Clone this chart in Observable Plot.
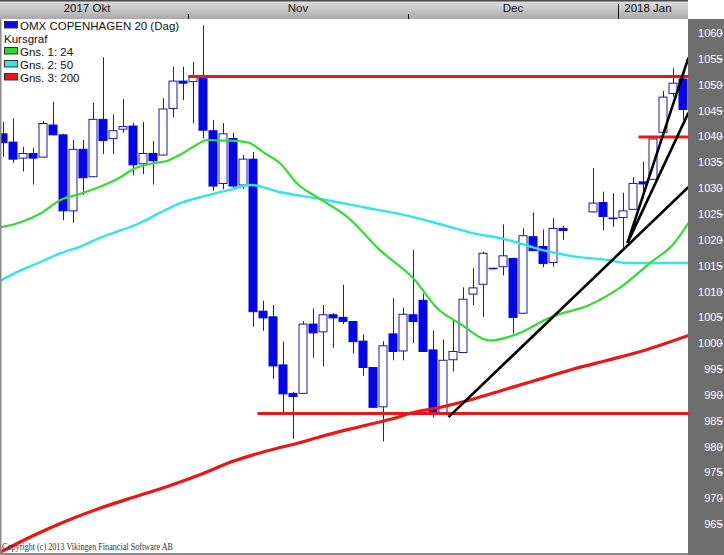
<!DOCTYPE html>
<html><head><meta charset="utf-8">
<script src="https://cdn.jsdelivr.net/npm/d3@7"></script>
<script src="https://cdn.jsdelivr.net/npm/@observablehq/plot@0.6"></script>
<style>body{margin:0;background:#fff;} #chart{width:724px;height:555px;overflow:hidden;position:relative;}</style>
</head><body><div id="chart"></div>
<script>
// ---- candle data (slot index = trading-day column) ----
const slots  = [0,1,2,3,4,5,6,7,8,9,10,11,12,13,14,15,16,17,18,19,20,21,22,23,24,25,26,27,28,29,30,31,32,33,34,35,36,37,38,39,40,41,42,43,44,45,46,47,48,49,50,51,52,53,54,55,56,59,60,61,62,63,64,65,66,67,68];
const opens  = [1040.5,1038.9,1035.8,1036.7,1036.0,1042.2,1040.3,1025.6,1037.5,1032.2,1043.3,1039.6,1041.4,1042.0,1034.7,1036.7,1036.4,1045.4,1050.7,1050.6,1051.5,1041.1,1030.9,1039.6,1030.6,1035.6,1006.2,1005.1,995.8,990.3,990.3,1003.7,1002.2,1005.5,1005.0,1004.2,1000.4,995.3,987.7,1001.8,998.5,1005.5,1008.3,998.7,986.6,996.8,998.2,1009.5,1011.4,1014.5,1014.8,1016.4,1005.8,1020.6,1018.7,1015.6,1022.2,1025.4,1027.2,1024.2,1024.3,1025.9,1031.2,1031.7,1040.8,1048.3,1051.1];
const highs  = [1042.8,1043.5,1038.0,1037.8,1043.0,1046.7,1040.5,1039.3,1039.3,1046.5,1055.3,1044.3,1047.2,1042.6,1042.8,1039.1,1047.4,1053.5,1053.5,1054.4,1061.5,1043.2,1042.6,1040.7,1036.4,1037.0,1008.2,1007.4,1000.3,990.6,1004.3,1006.7,1007.4,1005.8,1011.3,1004.3,1001.7,995.4,1000.4,1008.7,1006.9,1018.0,1009.6,1002.5,1000.7,1004.6,1010.8,1014.5,1017.7,1014.6,1023.0,1016.5,1022.2,1025.3,1022.0,1024.2,1022.7,1033.9,1029.3,1029.0,1029.1,1032.1,1035.1,1039.6,1048.8,1053.2,1051.7];
const lows   = [1036.1,1034.9,1033.2,1030.7,1035.9,1040.2,1023.8,1023.3,1028.7,1032.1,1036.6,1036.6,1040.7,1032.5,1032.7,1030.7,1036.3,1043.7,1047.0,1042.5,1039.6,1029.5,1029.8,1029.8,1029.8,1003.2,1002.4,993.1,986.4,981.5,990.2,997.2,995.5,999.1,1003.7,998.0,993.7,987.5,981.0,996.7,996.7,1000.0,998.3,985.7,986.5,994.5,998.1,1007.4,1005.1,1014.3,1013.1,1001.9,1005.7,1017.8,1014.7,1014.8,1020.0,1025.3,1021.8,1022.5,1018.4,1025.8,1028.0,1031.6,1040.5,1047.7,1043.2];
const closes = [1038.8,1035.6,1036.7,1035.8,1042.5,1040.3,1025.6,1037.5,1032.0,1043.3,1039.2,1041.1,1041.9,1034.5,1036.7,1035.3,1045.3,1050.7,1050.3,1051.7,1041.2,1030.4,1040.5,1030.4,1035.6,1006.1,1004.9,995.6,990.2,989.7,1003.7,1002.0,1005.5,1004.9,1004.2,1000.3,995.3,987.6,999.5,998.4,1005.6,1004.2,998.4,986.4,996.7,998.4,1008.5,1010.7,1017.4,1014.4,1016.9,1005.0,1020.8,1017.9,1015.4,1022.2,1021.8,1027.1,1024.5,1024.1,1025.6,1030.9,1030.8,1039.5,1047.6,1050.3,1045.2];

// ---- moving averages ----
const ma24Slots = [-0.3,1.7,3.7,5.7,7.7,9.7,11.7,13,14.7,16.4,17.7,19,20.4,21.7,22.7,24.5,26,27.7,29.4,31.4,34.4,37.7,41,43.4,45.7,48.7,51.4,54.7,58.7,61.7,64.7,67,68.5];
const ma24Vals  = [1022.5,1023.5,1025.2,1027.8,1029.0,1030.4,1032.2,1033.8,1034.8,1035.4,1036.6,1038.1,1039.4,1039.3,1039.3,1038.9,1037.0,1034.8,1030.9,1028.3,1024.5,1018.0,1012.6,1006.8,1003.8,1000.6,1001.9,1005.1,1007.6,1010.9,1015.7,1019.3,1023.4];
const ma50Slots = [-0.3,1.7,3.7,5.7,7.7,9.7,11.7,13.7,15.7,17.7,20.4,22.7,24.7,27.7,31.7,36,41,43.7,46.7,50.4,53.7,57,60.4,62.4,68.5];
const ma50Vals  = [1012.2,1014.2,1015.8,1017.5,1018.8,1020.5,1021.9,1023.4,1025.4,1027.2,1028.7,1029.8,1030.7,1029.3,1028.0,1026.4,1024.5,1023.1,1021.5,1020.1,1018.2,1016.9,1016.2,1015.6,1015.6];
const ma200Slots = [-0.3,3,6.4,9.7,13,16.4,19.7,23,26.4,29.7,32.2,35.5,38.9,41,43.7,47,50.4,53.7,57,60.4,63.7,68.5];
const ma200Vals  = [959.7,962.9,965.8,968.2,970.3,972.4,974.7,977.3,979.3,980.9,982.3,983.9,985.5,986.7,987.7,989.3,991.3,993.2,995.1,996.8,998.5,1001.6];

// ---- drawn horizontal levels and trend lines ----
const levelStart = [18.5, 25.4, 63.5];
const levelEnd   = [68.5, 68.5, 68.5];
const levelValue = [1051.7, 986.5, 1040.0];
const trendStart = [44.5, 62.4, 62.4];
const trendStartV= [985.8, 1019.5, 1019.5];
const trendEnd   = [68.5, 68.5, 68.5];
const trendEndV  = [1030.3, 1055.4, 1044.7];

// ---- texts ----
const yTicks = [965,970,975,980,985,990,995,1000,1005,1010,1015,1020,1025,1030,1035,1040,1045,1050,1055,1060];
const monthLabels = ["2017 Okt","Nov","Dec","2018 Jan"];
const monthLabelSlot = [8.4, 29.5, 51, 64.5];
const monthTickSlot = [18.5, 40.5, 61.5];
const monthTickMajor = [false, false, true];
const legendNames = ["OMX COPENHAGEN 20 (Dag)","Kursgraf","Gns. 1: 24","Gns. 2: 50","Gns. 3: 200"];
const legendColors = ["#0a0aee", null, "#22dd22", "#2fe6ea", "#ee1515"];
const copyright = "Copyright (c) 2013 Vikingen Financial Software AB";

const candles = slots.map((s,k)=>({i:s,o:opens[k],h:highs[k],l:lows[k],c:closes[k]}));
const series = (xs, vs) => xs.map((s,k)=>({i:s, v:vs[k]}));
const levels = levelValue.map((v,k)=>({i1:levelStart[k], i2:levelEnd[k], v}));
const trends = trendStart.map((s,k)=>({i1:s, v1:trendStartV[k], i2:trendEnd[k], v2:trendEndV[k]}));

const DARK = "#1a1aa0", BLUE = "#0505ea";

const chart = Plot.plot({
  width: 724, height: 555,
  marginTop: 19, marginRight: 36, marginBottom: 2, marginLeft: 0,
  x: {domain: [-0.3, 68.5], range: [0, 688], axis: null},
  y: {domain: [959.42, 1062.71], range: [553, 19], axis: null},
  style: {fontFamily: "'Liberation Sans', Arial, sans-serif", fontSize: "11px", background: "white", overflow: "visible"},
  marks: [
    Plot.ruleX(candles, {x: "i", y1: "l", y2: "h", stroke: DARK, strokeWidth: 1}),
    Plot.rect(candles, {x1: d=>d.i-0.4, x2: d=>d.i+0.4, y1: "o", y2: "c",
      fill: d => d.c < d.o ? BLUE : "white", stroke: d => d.c < d.o ? BLUE : DARK, strokeWidth: 1}),
    Plot.line(series(ma200Slots, ma200Vals), {x: "i", y: "v", stroke: "#ee1515", strokeWidth: 3.2, curve: "monotone-x", clip: true}),
    Plot.line(series(ma50Slots, ma50Vals), {x: "i", y: "v", stroke: "#2fe6ea", strokeWidth: 2.4, curve: "monotone-x", clip: true}),
    Plot.line(series(ma24Slots, ma24Vals), {x: "i", y: "v", stroke: "#33dd33", strokeWidth: 2.2, curve: "monotone-x", clip: true}),
    Plot.link(levels, {x1: "i1", x2: "i2", y1: "v", y2: "v", stroke: "#ee1515", strokeWidth: 3}),
    Plot.link(trends, {x1: "i1", y1: "v1", x2: "i2", y2: "v2", stroke: "black", strokeWidth: 2.6, clip: true}),
    Plot.axisY({anchor: "right", ticks: yTicks, tickSize: 4, tickPadding: 0, textAnchor: "end", dx: 30,
      color: "white", label: null, fontSize: 11, tickFormat: d => String(d)})
  ]
});

const svg = d3.select(chart);
const xs = chart.scale("x");
// background pieces
const defs = svg.insert("defs", ":first-child");
const g = defs.append("linearGradient").attr("id","hdr").attr("x1",0).attr("x2",0).attr("y1",0).attr("y2",1);
g.append("stop").attr("offset","0%").attr("stop-color","#e2e2e2");
g.append("stop").attr("offset","100%").attr("stop-color","#a9a9a9");
const bg = svg.insert("g", "defs + *");
bg.append("rect").attr("x",688).attr("y",19).attr("width",36).attr("height",536).attr("fill","#6e6e6e");
bg.append("rect").attr("x",0).attr("y",0).attr("width",688).attr("height",19).attr("fill","url(#hdr)");
bg.append("rect").attr("x",0).attr("y",0).attr("width",688).attr("height",1.5).attr("fill","#4a4a4a");

const fg = svg.append("g").attr("text-anchor","start");
fg.append("rect").attr("x",0).attr("y",19).attr("width",1.5).attr("height",536).attr("fill","#8a8a8a");
fg.append("rect").attr("x",0).attr("y",553).attr("width",688).attr("height",2).attr("fill","#8a8a8a");
monthLabels.forEach((t,k)=>{
  fg.append("text").attr("x", xs.apply(monthLabelSlot[k])).attr("y", 12).attr("text-anchor","middle")
    .attr("font-size", 11.5).attr("fill","#111").text(t);
});
monthTickSlot.forEach((s,k)=>{
  const x = Math.round(xs.apply(s)) + 0.5;
  fg.append("line").attr("x1",x).attr("x2",x).attr("y1", monthTickMajor[k] ? 4 : 14).attr("y2",19)
    .attr("stroke","#111").attr("stroke-width",1);
});
legendNames.forEach((t,k)=>{
  const base = 29.5 + 13*k;
  if (legendColors[k]) {
    fg.append("rect").attr("x",4.5).attr("y",base-8).attr("width",13).attr("height",6.5)
      .attr("fill",legendColors[k]).attr("stroke","#333").attr("stroke-width",1);
  }
  fg.append("text").attr("x", legendColors[k] ? 20 : 4).attr("y", base).attr("text-anchor","start")
    .attr("font-size", 11.5).attr("fill","#111").text(t);
});
fg.append("text").attr("x",2).attr("y",550).attr("text-anchor","start").attr("font-family","'Liberation Serif', 'Times New Roman', serif")
  .attr("font-size",9.5).attr("textLength",171).attr("lengthAdjust","spacingAndGlyphs").attr("fill","#333").text(copyright);

document.getElementById("chart").appendChild(chart);
</script>
</body></html>
